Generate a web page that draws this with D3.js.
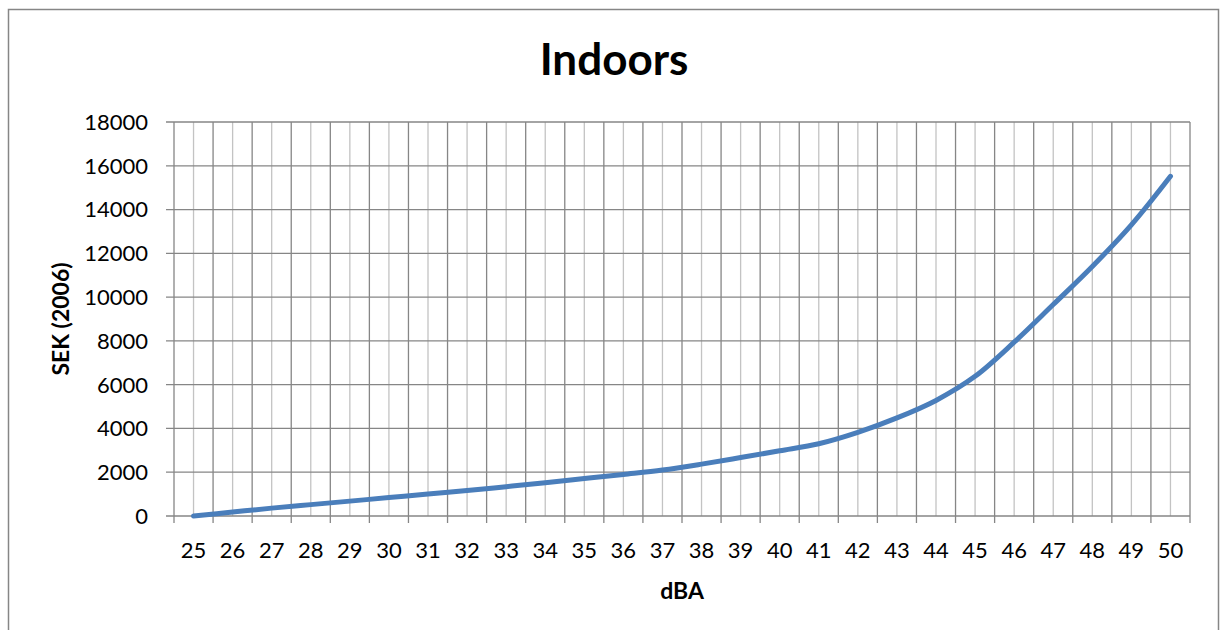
<!DOCTYPE html>
<html>
<head>
<meta charset="utf-8">
<script src="https://cdn.jsdelivr.net/npm/d3@7"></script>
<style>
  html, body { margin: 0; padding: 0; background: #fff; }
  svg { display: block; }
</style>
</head>
<body>
<svg id="chart" width="1220" height="630"></svg>
<script>
const title = "Indoors";
const xTitle = "dBA";
const yTitle = "SEK (2006)";
const categories = [25,26,27,28,29,30,31,32,33,34,35,36,37,38,39,40,41,42,43,44,45,46,47,48,49,50];
const values = [0,180,360,520,680,840,1005,1160,1340,1520,1710,1900,2100,2370,2670,2980,3300,3820,4480,5280,6380,7940,9660,11400,13300,15520];
const yTicks = [0,2000,4000,6000,8000,10000,12000,14000,16000,18000];

const svg = d3.select("#chart");
const font = "Lato, 'Open Sans', sans-serif";
const margin = {left: 174, top: 122, right: 1190, bottom: 516};

// outer chart border
svg.append("rect").attr("x", 8.5).attr("y", 9.5).attr("width", 1210).attr("height", 640)
  .attr("fill", "#fff").attr("stroke", "#868686").attr("stroke-width", 1.5);

const x = d3.scaleBand().domain(categories).range([margin.left, margin.right]).padding(0);
const y = d3.scaleLinear().domain([0, 18000]).range([margin.bottom, margin.top]);

const g = svg.append("g");

// minor vertical gridlines (category centers)
g.selectAll("line.minor").data(categories).join("line")
  .attr("x1", d => x(d) + x.bandwidth()/2).attr("x2", d => x(d) + x.bandwidth()/2)
  .attr("y1", margin.top).attr("y2", margin.bottom)
  .attr("stroke", "#c3c3c3").attr("stroke-width", 1.3);

// major vertical gridlines (category boundaries)
const bounds = categories.map(d => x(d)).concat([margin.right]);
g.selectAll("line.major").data(bounds).join("line")
  .attr("x1", d => d).attr("x2", d => d)
  .attr("y1", margin.top).attr("y2", margin.bottom + 7)
  .attr("stroke", "#868686").attr("stroke-width", 1.3);

// horizontal gridlines
g.selectAll("line.h").data(yTicks).join("line")
  .attr("x1", margin.left - 8).attr("x2", margin.right)
  .attr("y1", d => y(d)).attr("y2", d => y(d))
  .attr("stroke", "#868686").attr("stroke-width", 1.3);

// y tick labels
g.selectAll("text.yt").data(yTicks).join("text")
  .attr("x", 148).attr("y", d => y(d)).attr("dy", "0.36em")
  .attr("text-anchor", "end").attr("font-family", font).attr("font-size", 22)
  .attr("fill", "#000").text(d => d);

// x tick labels
g.selectAll("text.xt").data(categories).join("text")
  .attr("x", d => x(d) + x.bandwidth()/2).attr("y", 558)
  .attr("text-anchor", "middle").attr("font-family", font).attr("font-size", 22)
  .attr("fill", "#000").text(d => d);

// line
const line = d3.line()
  .x((d, i) => x(categories[i]) + x.bandwidth()/2)
  .y(d => y(d))
  .curve(d3.curveCatmullRom.alpha(0.5));
g.append("path").datum(values).attr("d", line)
  .attr("fill", "none").attr("stroke", "#4a7ebb").attr("stroke-width", 5)
  .attr("stroke-linecap", "round").attr("stroke-linejoin", "round");

// titles
svg.append("text").attr("x", 614).attr("y", 75).attr("text-anchor", "middle")
  .attr("font-family", font).attr("font-weight", "bold").attr("font-size", 44)
  .attr("fill", "#000").text(title);
svg.append("text").attr("x", 682).attr("y", 599).attr("text-anchor", "middle")
  .attr("font-family", font).attr("font-weight", "bold").attr("font-size", 23)
  .attr("fill", "#000").text(xTitle);
svg.append("text").attr("transform", "translate(69,319) rotate(-90)").attr("text-anchor", "middle")
  .attr("font-family", font).attr("font-weight", "bold").attr("font-size", 23)
  .attr("fill", "#000").text(yTitle);
</script>
</body>
</html>
